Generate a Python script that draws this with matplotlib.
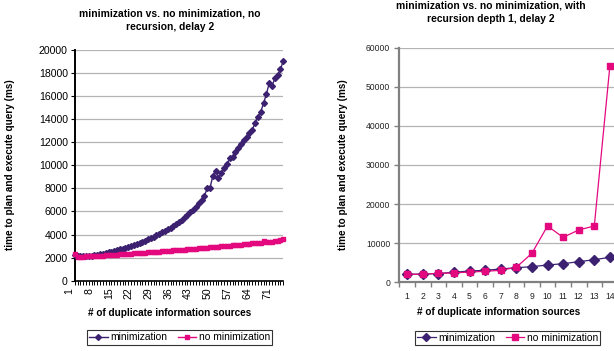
import matplotlib
matplotlib.use("Agg")
import matplotlib.pyplot as plt
from matplotlib.ticker import FixedLocator

plt.rcParams['font.family'] = ['Liberation Sans', 'DejaVu Sans']

# ---------------- data ----------------
left_title = "minimization vs. no minimization, no\nrecursion, delay 2"
right_title = "minimization vs. no minimization, with\nrecursion depth 1, delay 2"
xlabel = "# of duplicate information sources"
ylabel = "time to plan and execute query (ms)"
series_names = ["minimization", "no minimization"]

left_sources = list(range(1, 76))
left_min = [2200, 2130, 2110, 2100, 2110, 2130, 2160, 2200, 2240, 2290,
            2340, 2400, 2460, 2520, 2580, 2640, 2710, 2780, 2850, 2930,
            3010, 3100, 3190, 3280, 3380, 3480, 3590, 3700, 3810, 3930,
            4050, 4180, 4320, 4460, 4610, 4770, 4940, 5120, 5300, 5500,
            5710, 5930, 6160, 6420, 6700, 7000, 7350, 8010, 8060, 9080,
            9540, 8880, 9310, 9740, 10120, 10610, 10750, 11180, 11480, 11850,
            12200, 12430, 12830, 13070, 13700, 14220, 14650, 15380, 16190, 17110,
            16880, 17550, 17830, 18330, 19070]
left_nomin = [2350, 2090, 2080, 2090, 2100, 2110, 2120, 2130, 2150, 2160,
              2180, 2190, 2210, 2230, 2250, 2270, 2290, 2300, 2320, 2340,
              2350, 2370, 2390, 2400, 2420, 2440, 2460, 2470, 2490, 2510,
              2530, 2540, 2560, 2580, 2600, 2620, 2640, 2660, 2680, 2700,
              2720, 2740, 2760, 2780, 2800, 2820, 2840, 2860, 2880, 2900,
              2920, 2950, 2970, 3000, 3020, 3040, 3060, 3090, 3110, 3130,
              3160, 3180, 3200, 3230, 3250, 3280, 3300, 3420, 3330, 3350,
              3380, 3480, 3420, 3500, 3580]
left_xticklabels = [1, 8, 15, 22, 29, 36, 43, 50, 57, 64, 71]

right_sources = list(range(1, 15))
right_min = [2050, 2100, 2250, 2560, 2890, 3070, 3400, 3730, 4000, 4420,
             4760, 5270, 5780, 6390]
right_nomin = [2050, 2050, 2300, 2400, 2630, 2810, 3070, 3840, 7420, 14400,
               11500, 13380, 14400, 55400]

PURPLE = '#3b2170'
PINK = '#e4087f'
GRID = '#b4b4b4'

W, H = 614, 351
fig = plt.figure(figsize=(W / 100, H / 100), dpi=100)
fig.patch.set_facecolor('white')


def fx(px):
    return px / W


def fy(py):
    return 1 - py / H


# ---------------- left chart ----------------
axL = fig.add_axes([fx(74.7), fy(280.7), fx(283.3 - 74.7), (280.7 - 50) / H])
axL.plot(left_sources, left_min, color=PURPLE, lw=1.0, marker='D', ms=3.0,
         mec=PURPLE, mfc=PURPLE, clip_on=False, zorder=3, label=series_names[0])
axL.plot(left_sources, left_nomin, color=PINK, lw=1.0, marker='s', ms=3.2,
         mec=PINK, mfc=PINK, clip_on=False, zorder=3, label=series_names[1])
axL.set_xlim(1, 75)
axL.set_ylim(0, 20000)
axL.set_yticks(range(0, 20001, 2000))
axL.set_yticklabels([str(v) for v in range(0, 20001, 2000)], fontsize=7.6)
axL.set_xticks(left_xticklabels)
axL.set_xticklabels([str(v) for v in left_xticklabels], rotation=90, fontsize=7.6,
                    ha='right', va='top')
axL.xaxis.set_minor_locator(FixedLocator(left_sources))
axL.tick_params(axis='x', which='both', direction='out', length=3, width=0.7,
                color='black', pad=2)
axL.tick_params(axis='y', direction='out', length=3, width=0.8, color='black', pad=2)
axL.grid(axis='y', color=GRID, lw=0.9)
axL.set_axisbelow(True)
for s in ['top', 'right']:
    axL.spines[s].set_visible(False)
axL.spines['left'].set_linewidth(1.4)
axL.spines['bottom'].set_linewidth(1.2)
axL.set_ylabel(ylabel, fontsize=7.2, fontweight='bold')
axL.yaxis.set_label_coords(fx(15), fy(165), transform=fig.transFigure)
fig.text(fx(170), fy(20.5), left_title, ha='center', va='center', fontsize=7.4,
         fontweight='bold', linespacing=1.45)
fig.text(fx(170), fy(313), xlabel, ha='center', va='center', fontsize=7.2,
         fontweight='bold')
legL = axL.legend(loc='center', bbox_to_anchor=(fx(179.5), fy(337.5)),
                  bbox_transform=fig.transFigure, ncol=2, fontsize=7.4,
                  frameon=True, fancybox=False, edgecolor='black',
                  borderpad=0.2, handlelength=1.8, handletextpad=0.25,
                  columnspacing=1.0, borderaxespad=0)
legL.get_frame().set_linewidth(0.8)

# ---------------- right chart ----------------
axR = fig.add_axes([fx(399.3), fy(282.3), fx(617.7 - 399.3), (282.3 - 47.7) / H])
axR.plot(right_sources, right_min, color=PURPLE, lw=0.9, marker='D', ms=4.6,
         mec=PURPLE, mfc=PURPLE, clip_on=False, zorder=3, label=series_names[0])
axR.plot(right_sources, right_nomin, color=PINK, lw=0.9, marker='s', ms=5,
         mec=PINK, mfc=PINK, clip_on=False, zorder=3, label=series_names[1])
axR.set_xlim(0.5, 14.5)
axR.set_ylim(0, 60000)
axR.set_yticks(range(0, 60001, 10000))
axR.set_yticklabels([str(v) for v in range(0, 60001, 10000)], fontsize=6.2,
                    color='#222222')
axR.set_xticks(right_sources)
axR.set_xticklabels([str(v) for v in right_sources], fontsize=6.2, color='#222222')
axR.xaxis.set_minor_locator(FixedLocator([i + 0.5 for i in range(0, 15)]))
axR.tick_params(axis='x', which='major', length=0, pad=7)
axR.tick_params(axis='x', which='minor', direction='out', length=3.5, width=1,
                color='#808080')
axR.tick_params(axis='y', direction='out', length=3.5, width=1, color='#808080', pad=3)
axR.grid(axis='y', color=GRID, lw=0.9)
axR.set_axisbelow(True)
for s in ['top', 'right']:
    axR.spines[s].set_visible(False)
axR.spines['left'].set_linewidth(1.6)
axR.spines['left'].set_color('#808080')
axR.spines['bottom'].set_linewidth(1.6)
axR.spines['bottom'].set_color('#808080')
axR.set_ylabel(ylabel, fontsize=7.2, fontweight='bold')
axR.yaxis.set_label_coords(fx(348), fy(165), transform=fig.transFigure)
fig.text(fx(491), fy(12.5), right_title, ha='center', va='center', fontsize=7.4,
         fontweight='bold', linespacing=1.45)
fig.text(fx(499), fy(311.7), xlabel, ha='center', va='center', fontsize=7.2,
         fontweight='bold')
legR = axR.legend(loc='center', bbox_to_anchor=(fx(507.5), fy(338)),
                  bbox_transform=fig.transFigure, ncol=2, fontsize=7.4,
                  frameon=True, fancybox=False, edgecolor='black',
                  borderpad=0.2, handlelength=1.8, handletextpad=0.25,
                  columnspacing=1.0, borderaxespad=0, markerscale=0.85)
legR.get_frame().set_linewidth(0.8)

fig.savefig('out.png', dpi=100)
